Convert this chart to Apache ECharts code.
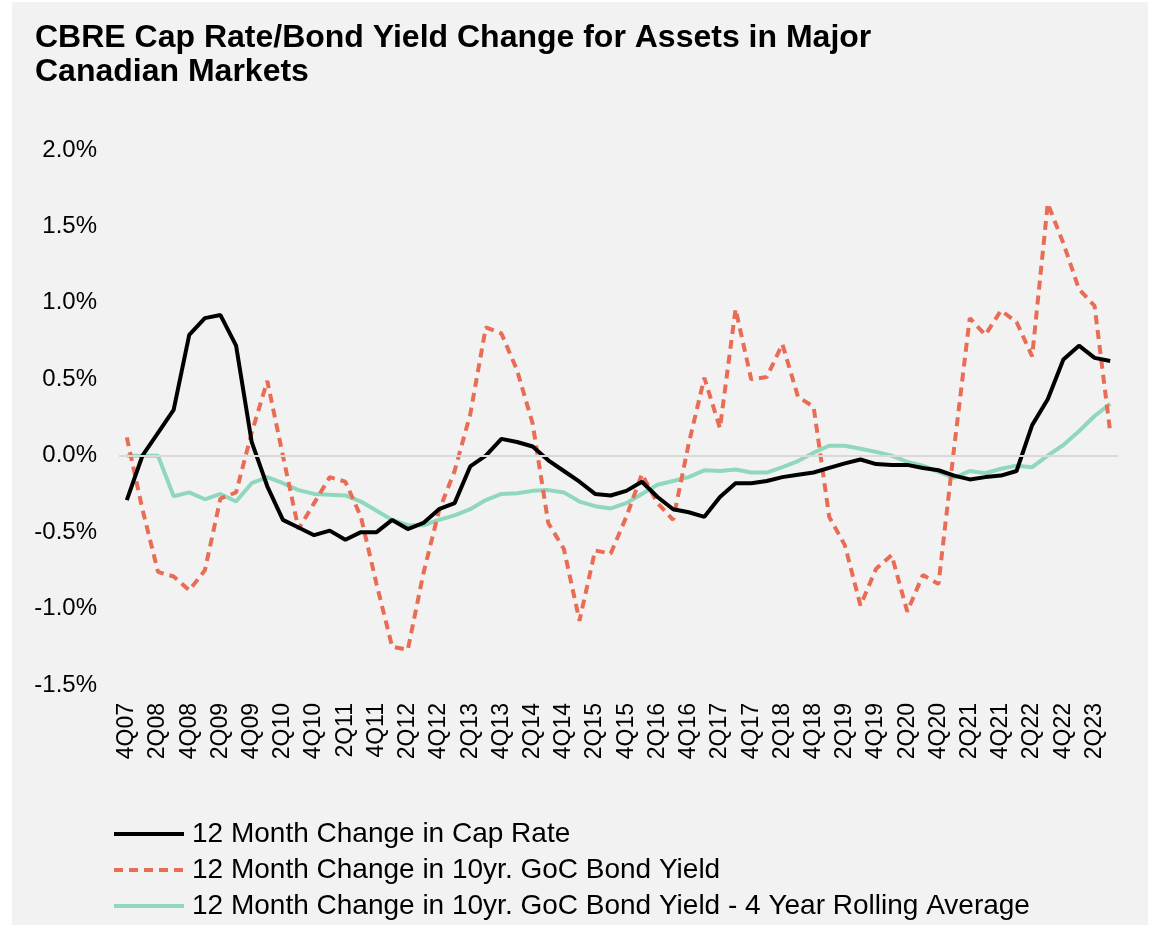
<!DOCTYPE html>
<html>
<head>
    <meta charset="UTF-8">
    <title>CBRE Cap Rate/Bond Yield Change</title>
    <style type="text/css">
        html, body { margin: 0; padding: 0; background: #ffffff; }
        #chart { position: absolute; left: 12px; top: 2px; width: 1136px; height: 923px; background: #f2f2f2; }
    </style>
</head>
<body>
    <div id="chart"></div>
<script type="text/javascript" src="https://cdn.jsdelivr.net/npm/echarts@6/dist/echarts.min.js"></script>
<script type="text/javascript">
// quarters 4Q07 .. 3Q23
var quarters = [
    '4Q07','1Q08','2Q08','3Q08','4Q08','1Q09','2Q09','3Q09','4Q09','1Q10','2Q10','3Q10','4Q10',
    '1Q11','2Q11','3Q11','4Q11','1Q12','2Q12','3Q12','4Q12','1Q13','2Q13','3Q13','4Q13',
    '1Q14','2Q14','3Q14','4Q14','1Q15','2Q15','3Q15','4Q15','1Q16','2Q16','3Q16','4Q16',
    '1Q17','2Q17','3Q17','4Q17','1Q18','2Q18','3Q18','4Q18','1Q19','2Q19','3Q19','4Q19',
    '1Q20','2Q20','3Q20','4Q20','1Q21','2Q21','3Q21','4Q21','1Q22','2Q22','3Q22','4Q22',
    '1Q23','2Q23','3Q23'
];

// values in %
var capRate = [
    -0.29, 0.00, 0.15, 0.30, 0.79, 0.90, 0.92, 0.72, 0.09, -0.20, -0.42, -0.47, -0.52,
    -0.49, -0.55, -0.50, -0.50, -0.42, -0.48, -0.44, -0.35, -0.31, -0.07, 0.00, 0.11,
    0.09, 0.06, -0.03, -0.10, -0.17, -0.25, -0.26, -0.23, -0.17, -0.27, -0.35, -0.37,
    -0.40, -0.27, -0.18, -0.18, -0.165, -0.14, -0.125, -0.11, -0.08, -0.05, -0.025, -0.055,
    -0.06, -0.06, -0.08, -0.095, -0.13, -0.155, -0.14, -0.13, -0.10, 0.20, 0.37, 0.63,
    0.72, 0.64, 0.62
];

var bondYield = [
    0.12, -0.35, -0.76, -0.79, -0.88, -0.75, -0.28, -0.24, 0.15, 0.49, 0.00, -0.48, -0.31,
    -0.14, -0.17, -0.40, -0.84, -1.25, -1.27, -0.77, -0.36, -0.10, 0.27, 0.84, 0.80,
    0.56, 0.21, -0.44, -0.61, -1.08, -0.62, -0.64, -0.40, -0.12, -0.31, -0.42, 0.08,
    0.51, 0.18, 0.96, 0.50, 0.515, 0.73, 0.385, 0.32, -0.40, -0.585, -0.98, -0.74,
    -0.65, -1.02, -0.78, -0.84, 0.05, 0.90, 0.79, 0.95, 0.875, 0.65, 1.65, 1.39,
    1.09, 0.98, 0.155
];

var bondAvg = [
    0.00, 0.00, 0.00, -0.265, -0.24, -0.285, -0.25, -0.30, -0.18, -0.14, -0.18, -0.225, -0.25,
    -0.255, -0.26, -0.30, -0.36, -0.42, -0.455, -0.455, -0.42, -0.39, -0.35, -0.29, -0.25,
    -0.245, -0.23, -0.225, -0.24, -0.30, -0.33, -0.345, -0.31, -0.25, -0.19, -0.165, -0.14,
    -0.095, -0.10, -0.09, -0.11, -0.11, -0.075, -0.035, 0.02, 0.065, 0.065, 0.045, 0.025,
    0.00, -0.04, -0.065, -0.105, -0.145, -0.10, -0.115, -0.085, -0.065, -0.075, 0.00, 0.07,
    0.16, 0.26, 0.34
];

var seriesNames = [
    '12 Month Change in Cap Rate',
    '12 Month Change in 10yr. GoC Bond Yield',
    '12 Month Change in 10yr. GoC Bond Yield - 4 Year Rolling Average'
];

var font = '"Liberation Sans", Arial, sans-serif';
var chart = echarts.init(document.getElementById('chart'));

chart.setOption({
    backgroundColor: '#f2f2f2',
    title: {
        text: 'CBRE Cap Rate/Bond Yield Change for Assets in Major\nCanadian Markets',
        left: 18, top: 14,
        textStyle: { fontFamily: font, fontSize: 32, fontWeight: 'bold', color: '#000', lineHeight: 34 }
    },
    legend: {
        orient: 'vertical', left: 95, top: 813,
        itemWidth: 70, itemHeight: 14, itemGap: 8,
        itemStyle: { opacity: 0 },
        lineStyle: { width: 4 },
        textStyle: { fontFamily: font, fontSize: 28, color: '#000', padding: [0, 0, 0, 3] },
        data: seriesNames
    },
    grid: { left: 107, right: 30, top: 148, bottom: 240, containLabel: false },
    xAxis: {
        type: 'category',
        data: quarters,
        boundaryGap: true,
        axisLine: { show: false },
        axisTick: { show: false },
        axisLabel: {
            interval: 1, rotate: 90, margin: 18,
            fontFamily: font, fontSize: 23, color: '#000'
        },
        splitLine: { show: false }
    },
    yAxis: {
        type: 'value',
        min: -1.5, max: 2.0, interval: 0.5,
        axisLine: { show: false },
        axisTick: { show: false },
        splitLine: { show: false },
        axisLabel: {
            margin: 22, fontFamily: font, fontSize: 24, color: '#000',
            formatter: function (v) { return v.toFixed(1) + '%'; }
        }
    },
    series: [
        {
            name: seriesNames[2], type: 'line', data: bondAvg, symbol: 'none', z: 2,
            lineStyle: { color: '#8fd8bc', width: 4 }, itemStyle: { color: '#8fd8bc' },
            markLine: {
                silent: true, symbol: 'none', label: { show: false },
                lineStyle: { color: '#d9d9d9', width: 2, type: 'solid' },
                data: [{ yAxis: 0 }]
            }
        },
        {
            name: seriesNames[1], type: 'line', data: bondYield, symbol: 'none', z: 3,
            lineStyle: { color: '#e96c55', width: 4, type: [9, 6] }, itemStyle: { color: '#e96c55' }
        },
        {
            name: seriesNames[0], type: 'line', data: capRate, symbol: 'none', z: 4,
            lineStyle: { color: '#000000', width: 4 }, itemStyle: { color: '#000000' }
        }
    ]
});
</script>
</body>
</html>
